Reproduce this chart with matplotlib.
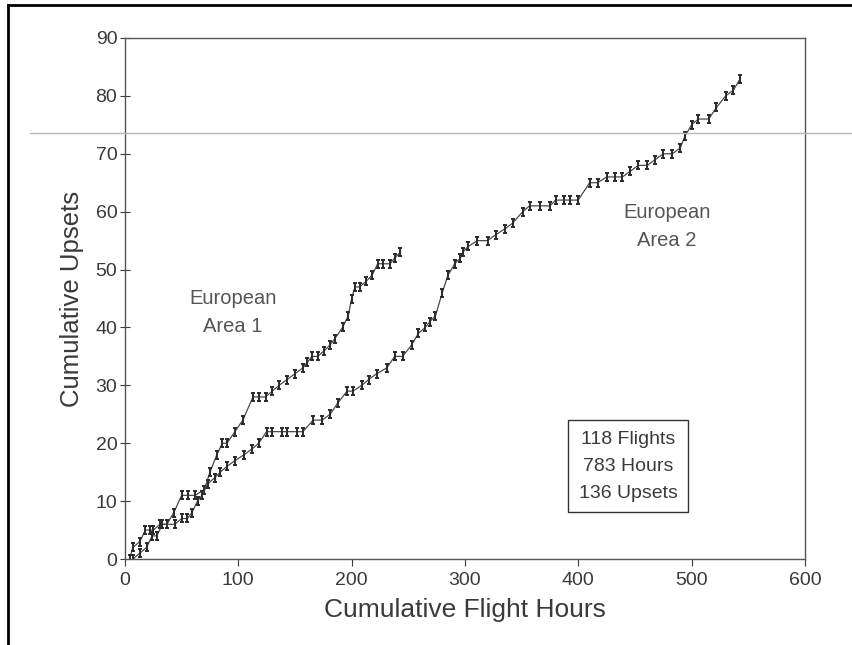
import matplotlib.pyplot as plt
from matplotlib.path import Path
from matplotlib.lines import Line2D

# ---------------------------------------
# Data
# ---------------------------------------

area1_hours = [4, 7, 13, 18, 22, 25, 31, 37, 43, 50, 56, 62, 70, 75, 81, 86, 90,
               97, 104, 113, 118, 124, 130, 136, 143, 150, 157, 161, 165, 170,
               176, 181, 185, 192, 197, 200, 203, 207, 213, 218, 223, 228, 234,
               238, 243]
area1_upsets = [0, 2, 3, 5, 5, 5, 6, 6, 8, 11, 11, 11, 12, 15, 18, 20, 20,
                22, 24, 28, 28, 28, 29, 30, 31, 32, 33, 34, 35, 35,
                36, 37, 38, 40, 42, 45, 47, 47, 48, 49, 51, 51, 51,
                52, 53]

area2_hours = [7, 13, 19, 24, 28, 33, 44, 50, 55, 59, 64, 68, 73, 79, 84, 90,
               97, 105, 112, 118, 125, 130, 139, 143, 152, 157, 166, 174, 181,
               188, 196, 201, 209, 215, 222, 231, 238, 245, 253, 259, 265, 269,
               274, 280, 285, 291, 296, 298, 303, 311, 320, 327, 335, 342, 351,
               357, 366, 375, 380, 387, 393, 400, 410, 417, 425, 432, 439, 446,
               453, 461, 468, 475, 483, 490, 494, 500, 506, 515, 522, 530, 537,
               543]
area2_upsets = [0, 1, 2, 4, 4, 6, 6, 7, 7, 8, 10, 11, 13, 14, 15, 16,
                17, 18, 19, 20, 22, 22, 22, 22, 22, 22, 24, 24, 25,
                27, 29, 29, 30, 31, 32, 33, 35, 35, 37, 39, 40, 41,
                42, 46, 49, 51, 52, 53, 54, 55, 55, 56, 57, 58, 60,
                61, 61, 61, 62, 62, 62, 62, 65, 65, 66, 66, 66, 67,
                68, 68, 69, 70, 70, 71, 73, 75, 76, 76, 78, 80, 81,
                83]

summary_lines = ["118 Flights", "783 Hours", "136 Upsets"]
x_ticks = [0, 100, 200, 300, 400, 500, 600]
y_ticks = [0, 10, 20, 30, 40, 50, 60, 70, 80, 90]

# ---------------------------------------
# Style
# ---------------------------------------

plt.rcParams["font.family"] = ["Liberation Sans", "DejaVu Sans"]

# "I"-shaped tick marker like the original plotter symbols
i_marker = Path(
    [(-0.6, -1), (0.6, -1), (0, -1), (0, 1), (-0.6, 1), (0.6, 1)],
    [Path.MOVETO, Path.LINETO, Path.MOVETO, Path.LINETO, Path.MOVETO, Path.LINETO],
)

ink = "#3a3a3a"

fig = plt.figure(figsize=(8.52, 6.45), dpi=100)
ax = fig.add_axes([0.1467, 0.1333, 0.798, 0.8078])

for hours, upsets in [(area1_hours, area1_upsets), (area2_hours, area2_upsets)]:
    ax.plot(
        hours,
        upsets,
        color="#4a4a4a",
        linewidth=0.9,
        marker=i_marker,
        markersize=5.5,
        markeredgewidth=1.4,
        markerfacecolor="none",
        markeredgecolor="#2a2a2a",
    )

ax.set_xlim(0, 600)
ax.set_ylim(0, 90)
ax.set_xticks(x_ticks)
ax.set_yticks(y_ticks)
ax.tick_params(axis="x", direction="out", length=5, labelsize=14,
               colors=ink, pad=4)
ax.tick_params(axis="y", direction="inout", length=7, labelsize=14,
               colors=ink, pad=2)

for spine in ax.spines.values():
    spine.set_color("#555555")
    spine.set_linewidth(1.0)

ax.set_xlabel("Cumulative Flight Hours", fontsize=19, color=ink, labelpad=7)
ax.set_ylabel("Cumulative Upsets", fontsize=18.5, color=ink, labelpad=8)

# ---------------------------------------
# Annotations
# ---------------------------------------

ax.text(95, 42.5, "European\nArea 1", ha="center", va="center",
        fontsize=14.5, color="#555555", linespacing=1.6)
ax.text(478, 57.5, "European\nArea 2", ha="center", va="center",
        fontsize=14.5, color="#555555", linespacing=1.6)

ax.text(444, 16, "\n".join(summary_lines), ha="center", va="center",
        fontsize=14, color=ink, linespacing=1.75,
        bbox=dict(boxstyle="square,pad=0.55", facecolor="white",
                  edgecolor="#333333", linewidth=1.0))

# scan frame and stray scanner line
fig.add_artist(Line2D([8 / 852, 1], [1 - 5 / 645, 1 - 5 / 645],
                      color="black", linewidth=2, transform=fig.transFigure))
fig.add_artist(Line2D([8 / 852, 8 / 852], [0, 1 - 5 / 645],
                      color="black", linewidth=2, transform=fig.transFigure))
fig.add_artist(Line2D([30 / 852, 1], [1 - 133 / 645, 1 - 133 / 645],
                      color="#b8b8b8", linewidth=1, transform=fig.transFigure))

plt.savefig("out.png", dpi=100)
